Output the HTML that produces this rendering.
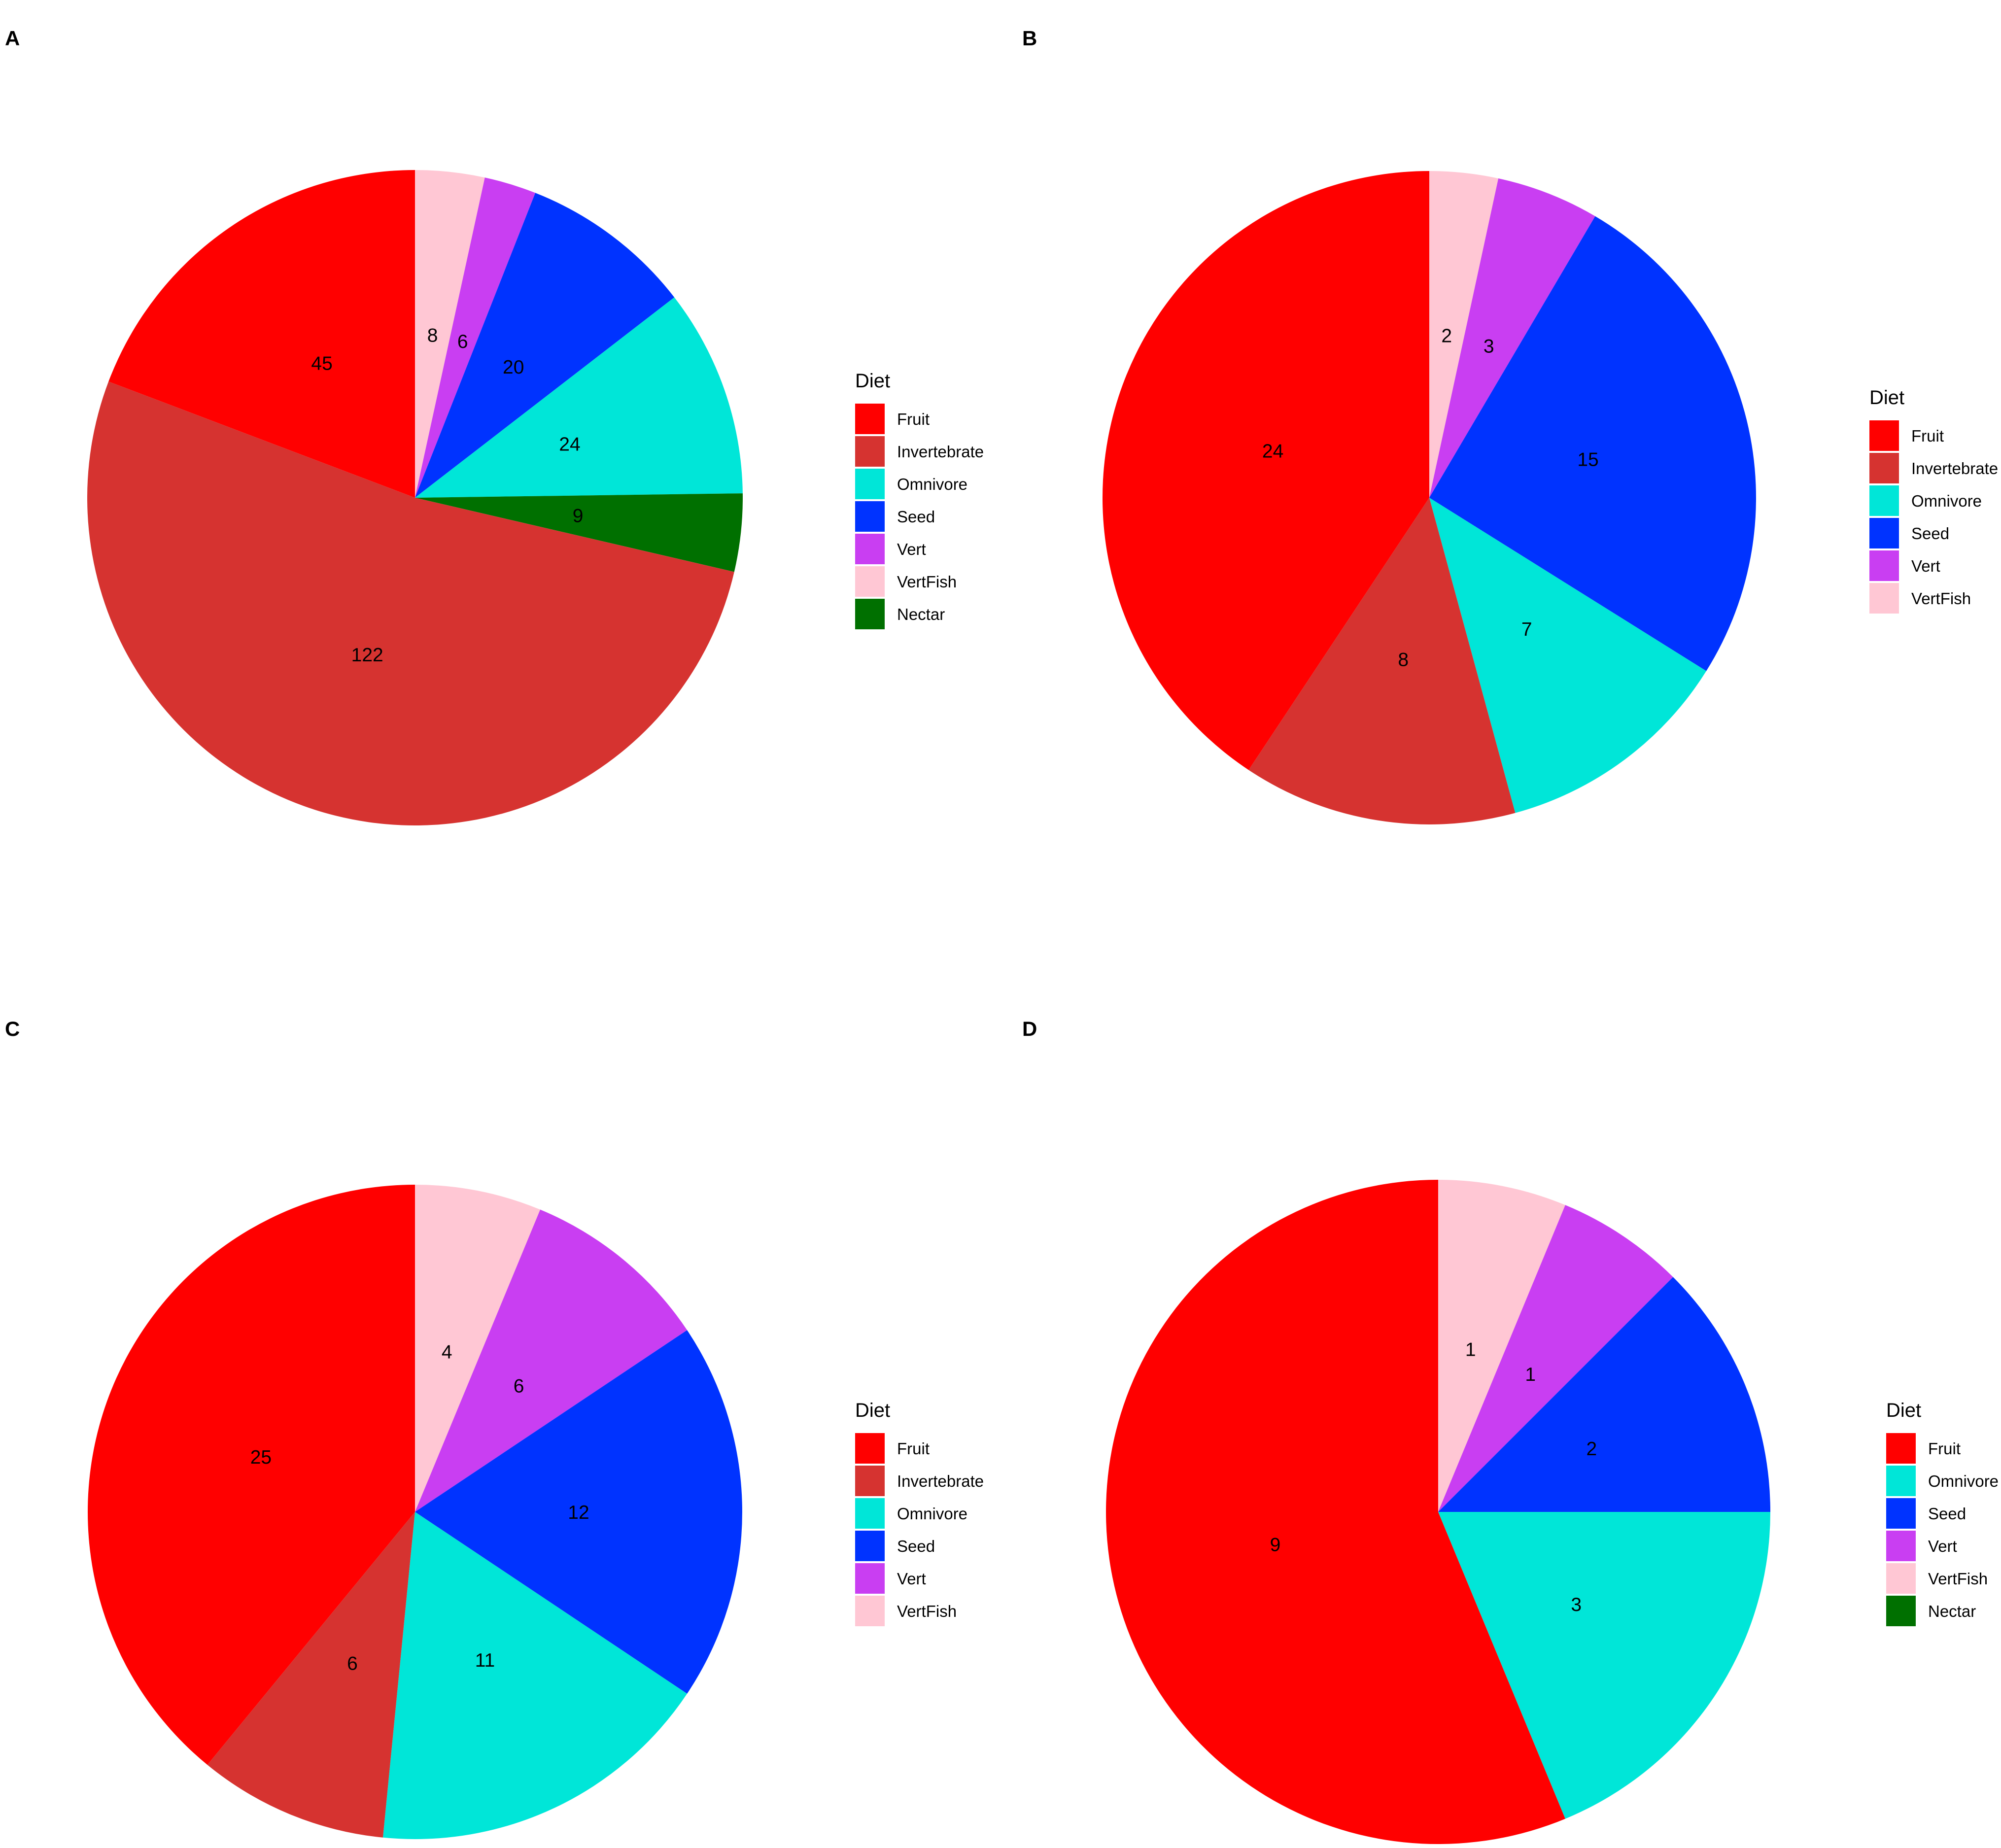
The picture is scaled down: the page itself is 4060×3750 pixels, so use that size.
<!DOCTYPE html>
<html><head><meta charset="utf-8"><style>body{margin:0;background:#fff}svg{display:block;font-family:"Liberation Sans",sans-serif}</style></head>
<body>
<svg id="fig" width="4060" height="3750" viewBox="0 0 4060 3750" xmlns="http://www.w3.org/2000/svg">
<rect width="4060" height="3750" fill="#fff"/>
</svg>
<script>
const colors = {Fruit:"#FF0000",Invertebrate:"#D63330",Omnivore:"#00E6D8",Seed:"#0033FF",Vert:"#C93EF2",VertFish:"#FFC7D4",Nectar:"#007000"};
// slice order clockwise from 12 o'clock
const catsA = ["VertFish","Vert","Seed","Omnivore","Nectar","Invertebrate","Fruit"];
const valsA = [8,6,20,24,9,122,45];
const legA = ["Fruit","Invertebrate","Omnivore","Seed","Vert","VertFish","Nectar"];
const catsB = ["VertFish","Vert","Seed","Omnivore","Invertebrate","Fruit"];
const valsB = [2,3,15,7,8,24];
const legB = ["Fruit","Invertebrate","Omnivore","Seed","Vert","VertFish"];
const catsC = ["VertFish","Vert","Seed","Omnivore","Invertebrate","Fruit"];
const valsC = [4,6,12,11,6,25];
const legC = ["Fruit","Invertebrate","Omnivore","Seed","Vert","VertFish"];
const catsD = ["VertFish","Vert","Seed","Omnivore","Fruit"];
const valsD = [1,1,2,3,9];
const legD = ["Fruit","Omnivore","Seed","Vert","VertFish","Nectar"];

const NS="http://www.w3.org/2000/svg", svg=document.getElementById('fig');
function mk(t,a,p){const e=document.createElementNS(NS,t);for(const k in a)e.setAttribute(k,a[k]);(p||svg).appendChild(e);return e;}
function pie(id,cats,vals,cx,cy,r){
  const g=mk('g',{});
  
  
  const tot=vals.reduce((a,b)=>a+b,0);let cum=0;
  const pt=(f,rr)=>[cx+rr*Math.sin(2*Math.PI*f),cy-rr*Math.cos(2*Math.PI*f)];
  cats.forEach((c,i)=>{
    const f0=cum/tot,f1=(cum+vals[i])/tot;cum+=vals[i];
    const [x0,y0]=pt(f0,r),[x1,y1]=pt(f1,r);
    const p=mk('path',{d:`M${cx},${cy}L${x0},${y0}A${r},${r} 0 ${f1-f0>0.5?1:0} 1 ${x1},${y1}Z`,fill:colors[c]},g);
    
    
  });
  cum=0;
  cats.forEach((c,i)=>{
    const fm=(cum+vals[i]/2)/tot;cum+=vals[i];
    const [lx,ly]=pt(fm,r/2);
    const t=mk('text',{x:lx,y:ly+14,'text-anchor':'middle','font-size':39,fill:'#000'},g);
    t.textContent=vals[i];
    
    
  });
}
function legend(id,items,x,ty){
  const g=mk('g',{});
  
  
  const t=mk('text',{x:x,y:ty,'font-size':40},g);t.textContent='Diet';
  
  
  items.forEach((c,i)=>{
    const y=ty+33+i*66;
    const r=mk('rect',{x:x,y:y,width:60,height:62,fill:colors[c]},g);
    
    
    const tx=mk('text',{x:x+85,y:y+43,'font-size':33},g);tx.textContent=c;
    
    
  });
}
function letter(s,x,y){const t=mk('text',{x:x,y:y,'font-size':42,'font-weight':'bold'});t.textContent=s;
  
  }
pie('a',catsA,valsA,842,1010,665);
pie('b',catsB,valsB,2900,1010,663);
pie('c',catsC,valsC,842,3068,664);
pie('d',catsD,valsD,2918,3068,674);
legend('a',legA,1735,786);
legend('b',legB,3793,820);
legend('c',legC,1735,2875);
legend('d',legD,3827,2875);
letter('A',10,92);letter('B',2074,92);letter('C',10,2102);letter('D',2074,2102);
</script>
</body></html>
